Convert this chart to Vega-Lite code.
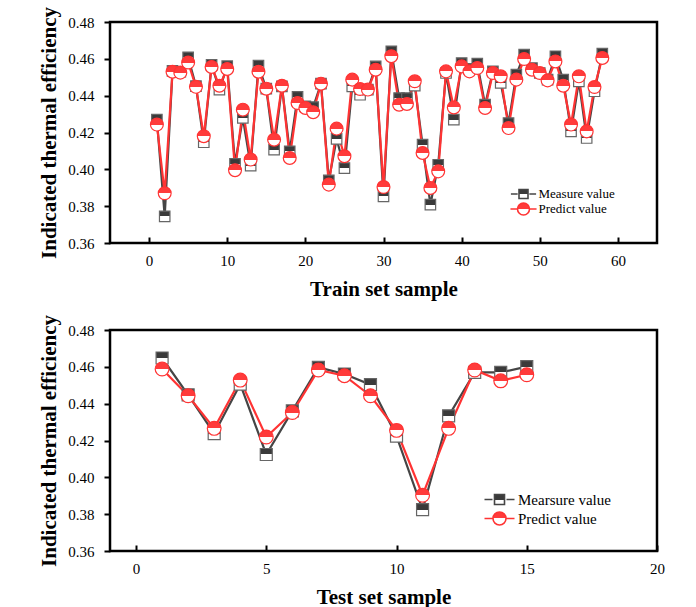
{
  "$schema": "https://vega.github.io/schema/vega-lite/v6.json",
  "padding": {"left": 37, "top": 5, "right": 5, "bottom": 0},
  "background": "white",
  "datasets": {
    "train": [
      {"sample":1,"series":"Measure value","value":0.427},{"sample":2,"series":"Measure value","value":0.3745},{"sample":3,"series":"Measure value","value":0.4535},{"sample":4,"series":"Measure value","value":0.453},{"sample":5,"series":"Measure value","value":0.4608},{"sample":6,"series":"Measure value","value":0.4452},{"sample":7,"series":"Measure value","value":0.4147},{"sample":8,"series":"Measure value","value":0.4568},{"sample":9,"series":"Measure value","value":0.4433},{"sample":10,"series":"Measure value","value":0.456},
      {"sample":11,"series":"Measure value","value":0.403},{"sample":12,"series":"Measure value","value":0.4279},{"sample":13,"series":"Measure value","value":0.402},{"sample":14,"series":"Measure value","value":0.4563},{"sample":15,"series":"Measure value","value":0.4438},{"sample":16,"series":"Measure value","value":0.4107},{"sample":17,"series":"Measure value","value":0.445},{"sample":18,"series":"Measure value","value":0.4098},{"sample":19,"series":"Measure value","value":0.4393},{"sample":20,"series":"Measure value","value":0.4342},
      {"sample":21,"series":"Measure value","value":0.4338},{"sample":22,"series":"Measure value","value":0.4465},{"sample":23,"series":"Measure value","value":0.394},{"sample":24,"series":"Measure value","value":0.4165},{"sample":25,"series":"Measure value","value":0.4007},{"sample":26,"series":"Measure value","value":0.445},{"sample":27,"series":"Measure value","value":0.4405},{"sample":28,"series":"Measure value","value":0.4433},{"sample":29,"series":"Measure value","value":0.4559},{"sample":30,"series":"Measure value","value":0.3853},
      {"sample":31,"series":"Measure value","value":0.4641},{"sample":32,"series":"Measure value","value":0.4387},{"sample":33,"series":"Measure value","value":0.4387},{"sample":34,"series":"Measure value","value":0.4454},{"sample":35,"series":"Measure value","value":0.4134},{"sample":36,"series":"Measure value","value":0.3808},{"sample":37,"series":"Measure value","value":0.4025},{"sample":38,"series":"Measure value","value":0.4523},{"sample":39,"series":"Measure value","value":0.427},{"sample":40,"series":"Measure value","value":0.4577},
      {"sample":41,"series":"Measure value","value":0.4545},{"sample":42,"series":"Measure value","value":0.4574},{"sample":43,"series":"Measure value","value":0.4351},{"sample":44,"series":"Measure value","value":0.4532},{"sample":45,"series":"Measure value","value":0.4469},{"sample":46,"series":"Measure value","value":0.4251},{"sample":47,"series":"Measure value","value":0.4514},{"sample":48,"series":"Measure value","value":0.4623},{"sample":49,"series":"Measure value","value":0.455},{"sample":50,"series":"Measure value","value":0.4523},
      {"sample":51,"series":"Measure value","value":0.4487},{"sample":52,"series":"Measure value","value":0.4614},{"sample":53,"series":"Measure value","value":0.4487},{"sample":54,"series":"Measure value","value":0.4206},{"sample":55,"series":"Measure value","value":0.4478},{"sample":56,"series":"Measure value","value":0.417},{"sample":57,"series":"Measure value","value":0.4424},{"sample":58,"series":"Measure value","value":0.4628},
      {"sample":1,"series":"Predict value","value":0.4243},{"sample":2,"series":"Predict value","value":0.387},{"sample":3,"series":"Predict value","value":0.453},{"sample":4,"series":"Predict value","value":0.4525},{"sample":5,"series":"Predict value","value":0.458},{"sample":6,"series":"Predict value","value":0.4448},{"sample":7,"series":"Predict value","value":0.418},{"sample":8,"series":"Predict value","value":0.4556},{"sample":9,"series":"Predict value","value":0.4454},{"sample":10,"series":"Predict value","value":0.4545},
      {"sample":11,"series":"Predict value","value":0.3995},{"sample":12,"series":"Predict value","value":0.4324},{"sample":13,"series":"Predict value","value":0.4053},{"sample":14,"series":"Predict value","value":0.453},{"sample":15,"series":"Predict value","value":0.4438},{"sample":16,"series":"Predict value","value":0.4161},{"sample":17,"series":"Predict value","value":0.4454},{"sample":18,"series":"Predict value","value":0.4062},{"sample":19,"series":"Predict value","value":0.436},{"sample":20,"series":"Predict value","value":0.4333},
      {"sample":21,"series":"Predict value","value":0.431},{"sample":22,"series":"Predict value","value":0.4465},{"sample":23,"series":"Predict value","value":0.3917},{"sample":24,"series":"Predict value","value":0.4221},{"sample":25,"series":"Predict value","value":0.4071},{"sample":26,"series":"Predict value","value":0.4487},{"sample":27,"series":"Predict value","value":0.4436},{"sample":28,"series":"Predict value","value":0.4433},{"sample":29,"series":"Predict value","value":0.4541},{"sample":30,"series":"Predict value","value":0.3904},
      {"sample":31,"series":"Predict value","value":0.4614},{"sample":32,"series":"Predict value","value":0.4351},{"sample":33,"series":"Predict value","value":0.4355},{"sample":34,"series":"Predict value","value":0.4478},{"sample":35,"series":"Predict value","value":0.4089},{"sample":36,"series":"Predict value","value":0.3899},{"sample":37,"series":"Predict value","value":0.3989},{"sample":38,"series":"Predict value","value":0.4532},{"sample":39,"series":"Predict value","value":0.4336},{"sample":40,"series":"Predict value","value":0.4559},
      {"sample":41,"series":"Predict value","value":0.4532},{"sample":42,"series":"Predict value","value":0.455},{"sample":43,"series":"Predict value","value":0.4333},{"sample":44,"series":"Predict value","value":0.4523},{"sample":45,"series":"Predict value","value":0.4505},{"sample":46,"series":"Predict value","value":0.4224},{"sample":47,"series":"Predict value","value":0.4487},{"sample":48,"series":"Predict value","value":0.4599},{"sample":49,"series":"Predict value","value":0.4541},{"sample":50,"series":"Predict value","value":0.4523},
      {"sample":51,"series":"Predict value","value":0.4483},{"sample":52,"series":"Predict value","value":0.4586},{"sample":53,"series":"Predict value","value":0.4454},{"sample":54,"series":"Predict value","value":0.4243},{"sample":55,"series":"Predict value","value":0.4505},{"sample":56,"series":"Predict value","value":0.4206},{"sample":57,"series":"Predict value","value":0.4447},{"sample":58,"series":"Predict value","value":0.4605}
    ],
    "test": [
      {"sample":1,"series":"Mearsure value","value":0.4648},{"sample":2,"series":"Mearsure value","value":0.4448},{"sample":3,"series":"Mearsure value","value":0.4237},{"sample":4,"series":"Mearsure value","value":0.4506},{"sample":5,"series":"Mearsure value","value":0.4124},{"sample":6,"series":"Mearsure value","value":0.4361},{"sample":7,"series":"Mearsure value","value":0.4597},{"sample":8,"series":"Mearsure value","value":0.4561},{"sample":9,"series":"Mearsure value","value":0.4503},{"sample":10,"series":"Mearsure value","value":0.4224},{"sample":11,"series":"Mearsure value","value":0.3825},{"sample":12,"series":"Mearsure value","value":0.4334},{"sample":13,"series":"Mearsure value","value":0.457},{"sample":14,"series":"Mearsure value","value":0.457},{"sample":15,"series":"Mearsure value","value":0.4601},
      {"sample":1,"series":"Predict value","value":0.4588},{"sample":2,"series":"Predict value","value":0.4443},{"sample":3,"series":"Predict value","value":0.4266},{"sample":4,"series":"Predict value","value":0.4528},{"sample":5,"series":"Predict value","value":0.4219},{"sample":6,"series":"Predict value","value":0.4352},{"sample":7,"series":"Predict value","value":0.4583},{"sample":8,"series":"Predict value","value":0.4552},{"sample":9,"series":"Predict value","value":0.4443},{"sample":10,"series":"Predict value","value":0.4255},{"sample":11,"series":"Predict value","value":0.3903},{"sample":12,"series":"Predict value","value":0.4266},{"sample":13,"series":"Predict value","value":0.4583},{"sample":14,"series":"Predict value","value":0.4524},{"sample":15,"series":"Predict value","value":0.4557}
    ]
  },
  "config": {
    "font": "Liberation Serif",
    "view": {"stroke": "black", "strokeWidth": 2.5},
    "axis": {"grid": false, "domain": false, "labelFont": "Liberation Serif", "labelFontSize": 15, "labelColor": "black", "titleFont": "Liberation Serif", "titleFontSize": 21, "titleFontWeight": "bold", "titleColor": "black", "tickColor": "black", "tickWidth": 2, "labelFlush": false, "labelOverlap": false},
    "axisY": {"tickSize": 6, "labelPadding": 10, "titlePadding": 8},
    "axisX": {"tickSize": -6, "labelPadding": 16, "titlePadding": 10},
    "legend": {"orient": "none", "title": null, "padding": 0, "labelFont": "Liberation Serif", "labelColor": "black", "symbolStrokeWidth": 1.6}
  },
  "spacing": 12,
  "resolve": {"scale": {"color": "independent"}, "legend": {"color": "independent"}},
  "vconcat": [
    {
      "width": 547,
      "height": 221,
      "data": {"name": "train"},
      "encoding": {
        "x": {"field": "sample", "type": "quantitative", "scale": {"domain": [-5, 65], "nice": false, "zero": false}, "axis": {"title": "Train set sample", "values": [0, 10, 20, 30, 40, 50, 60], "format": "d"}},
        "y": {"field": "value", "type": "quantitative", "scale": {"domain": [0.36, 0.48], "nice": false, "zero": false}, "axis": {"title": "Indicated thermal efficiency", "values": [0.36, 0.38, 0.40, 0.42, 0.44, 0.46, 0.48], "format": ".2f"}}
      },
      "layer": [
        {
          "mark": {"type": "line", "strokeWidth": 2.2},
          "encoding": {
            "color": {"field": "series", "type": "nominal", "scale": {"domain": ["Measure value", "Predict value"], "range": ["#454545", "#ff3333"]},
              "legend": {"legendX": 407, "legendY": 165.5, "labelFontSize": 13, "symbolSize": 81, "labelOffset": 8.5, "rowPadding": -3,
                "symbolType": "M-2.8,0H-1.3M1.3,0H2.8M-1,-1H1V1H-1Z",
                "encode": {"symbols": {"update": {
                  "shape": {"signal": "datum.value == 'Predict value' ? 'M-2.9,0H-1.35M1.35,0H2.9M-1.33,0A1.33,1.33 0 1 1 1.33,0A1.33,1.33 0 1 1 -1.33,0Z' : 'M-2.8,0H-1.3M1.3,0H2.8M-1,-1H1V1H-1Z'"},
                  "fill": {"signal": "datum.value == 'Predict value' ? {gradient: 'linear', x1: 0, y1: 0, x2: 0, y2: 1, stops: [{offset: 0, color: '#ff3b3b'}, {offset: 0.5, color: '#ff3b3b'}, {offset: 0.5, color: '#ffffff'}, {offset: 1, color: '#ffffff'}]} : {gradient: 'linear', x1: 0, y1: 0, x2: 0, y2: 1, stops: [{offset: 0, color: '#3a3a3a'}, {offset: 0.5, color: '#3a3a3a'}, {offset: 0.5, color: '#ffffff'}, {offset: 1, color: '#ffffff'}]}"}
                }}}
              }
            }
          }
        },
        {
          "transform": [{"filter": "datum.series != 'Predict value'"}],
          "mark": {"type": "point", "shape": "square", "size": 110, "filled": true, "opacity": 1, "stroke": "#666666", "strokeWidth": 1.2,
            "fill": {"gradient": "linear", "x1": 0, "y1": 0, "x2": 0, "y2": 1, "stops": [{"offset": 0, "color": "#3a3a3a"}, {"offset": 0.5, "color": "#3a3a3a"}, {"offset": 0.5, "color": "#ffffff"}, {"offset": 1, "color": "#ffffff"}]}}
        },
        {
          "transform": [{"filter": "datum.series == 'Predict value'"}],
          "mark": {"type": "point", "shape": "circle", "size": 165, "filled": true, "opacity": 1, "stroke": "#ff3333", "strokeWidth": 1.2,
            "fill": {"gradient": "linear", "x1": 0, "y1": 0, "x2": 0, "y2": 1, "stops": [{"offset": 0, "color": "#ff3b3b"}, {"offset": 0.5, "color": "#ff3b3b"}, {"offset": 0.5, "color": "#ffffff"}, {"offset": 1, "color": "#ffffff"}]}}
        }
      ]
    },
    {
      "width": 547,
      "height": 221,
      "data": {"name": "test"},
      "encoding": {
        "x": {"field": "sample", "type": "quantitative", "scale": {"domain": [-1, 20], "nice": false, "zero": false}, "axis": {"title": "Test set sample", "values": [0, 5, 10, 15, 20], "format": "d"}},
        "y": {"field": "value", "type": "quantitative", "scale": {"domain": [0.36, 0.48], "nice": false, "zero": false}, "axis": {"title": "Indicated thermal efficiency", "values": [0.36, 0.38, 0.40, 0.42, 0.44, 0.46, 0.48], "format": ".2f"}}
      },
      "layer": [
        {
          "mark": {"type": "line", "strokeWidth": 2.2},
          "encoding": {
            "color": {"field": "series", "type": "nominal", "scale": {"domain": ["Mearsure value", "Predict value"], "range": ["#454545", "#ff3333"]},
              "legend": {"legendX": 382, "legendY": 162, "labelFontSize": 15, "symbolSize": 100, "labelOffset": 11, "rowPadding": 0,
                "symbolType": "M-3,0H-1.4M1.4,0H3M-1,-1H1V1H-1Z",
                "encode": {"symbols": {"update": {
                  "shape": {"signal": "datum.value == 'Predict value' ? 'M-3,0H-1.4M1.4,0H3M-1.3,0A1.3,1.3 0 1 1 1.3,0A1.3,1.3 0 1 1 -1.3,0Z' : 'M-3,0H-1.4M1.4,0H3M-1,-1H1V1H-1Z'"},
                  "fill": {"signal": "datum.value == 'Predict value' ? {gradient: 'linear', x1: 0, y1: 0, x2: 0, y2: 1, stops: [{offset: 0, color: '#ff3b3b'}, {offset: 0.5, color: '#ff3b3b'}, {offset: 0.5, color: '#ffffff'}, {offset: 1, color: '#ffffff'}]} : {gradient: 'linear', x1: 0, y1: 0, x2: 0, y2: 1, stops: [{offset: 0, color: '#3a3a3a'}, {offset: 0.5, color: '#3a3a3a'}, {offset: 0.5, color: '#ffffff'}, {offset: 1, color: '#ffffff'}]}"}
                }}}
              }
            }
          }
        },
        {
          "transform": [{"filter": "datum.series != 'Predict value'"}],
          "mark": {"type": "point", "shape": "square", "size": 144, "filled": true, "opacity": 1, "stroke": "#666666", "strokeWidth": 1.2,
            "fill": {"gradient": "linear", "x1": 0, "y1": 0, "x2": 0, "y2": 1, "stops": [{"offset": 0, "color": "#3a3a3a"}, {"offset": 0.5, "color": "#3a3a3a"}, {"offset": 0.5, "color": "#ffffff"}, {"offset": 1, "color": "#ffffff"}]}}
        },
        {
          "transform": [{"filter": "datum.series == 'Predict value'"}],
          "mark": {"type": "point", "shape": "circle", "size": 190, "filled": true, "opacity": 1, "stroke": "#ff3333", "strokeWidth": 1.2,
            "fill": {"gradient": "linear", "x1": 0, "y1": 0, "x2": 0, "y2": 1, "stops": [{"offset": 0, "color": "#ff3b3b"}, {"offset": 0.5, "color": "#ff3b3b"}, {"offset": 0.5, "color": "#ffffff"}, {"offset": 1, "color": "#ffffff"}]}}
        }
      ]
    }
  ]
}
